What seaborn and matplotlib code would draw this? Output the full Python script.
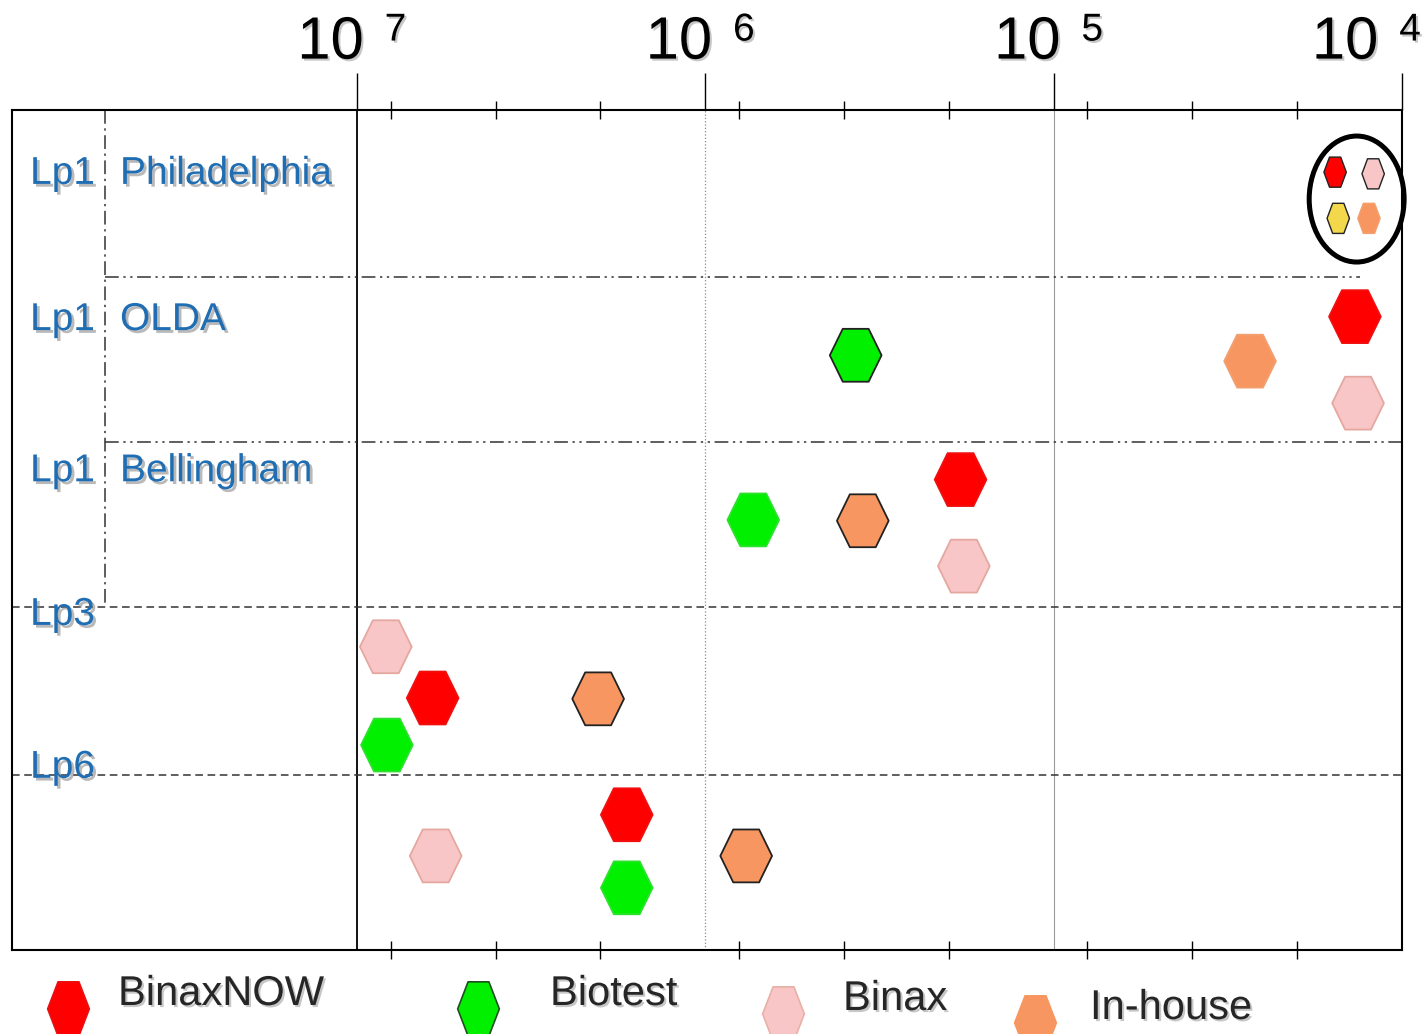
import numpy as np
import pandas as pd
import matplotlib
matplotlib.use("Agg")
import matplotlib.pyplot as plt
import matplotlib.patheffects as pe
from matplotlib.patches import Ellipse
from matplotlib.lines import Line2D
from matplotlib.path import Path
from matplotlib.markers import MarkerStyle
from matplotlib.transforms import Affine2D
from matplotlib.ticker import FixedLocator, NullFormatter
import seaborn as sns

# ---------------- data ----------------
assay_names = ["BinaxNOW", "Biotest", "Binax", "In-house"]
assay_colors = {"BinaxNOW": "#FF0000", "Biotest": "#00F000",
                "Binax": "#F8C6C6", "In-house": "#F79660", "Other": "#F2D84A"}
soft_edges = {"BinaxNOW": "#F01010", "Biotest": "#30E030",
              "Binax": "#E4A8A0", "In-house": "#F3A070", "Other": "#333333"}

strain = ["OLDA"] * 4 + ["Bellingham"] * 4 + ["Lp3"] * 4 + ["Lp6"] * 4
assay = ["BinaxNOW", "Biotest", "In-house", "Binax",
         "BinaxNOW", "Biotest", "In-house", "Binax",
         "Binax", "BinaxNOW", "In-house", "Biotest",
         "BinaxNOW", "Binax", "In-house", "Biotest"]
conc = [13650, 3.7e5, 27300, 13370,
        1.85e5, 7.28e5, 3.53e5, 1.81e5,
        8.26e6, 6.06e6, 2.03e6, 8.2e6,
        1.68e6, 5.94e6, 7.63e5, 1.68e6]
ypos = [24.6, 29.2, 29.9, 34.9,
        44.0, 48.8, 48.9, 54.3,
        63.9, 70.0, 70.1, 75.6,
        83.9, 88.8, 88.8, 92.6]
outlined = [False, True, False, False,
            False, False, True, False,
            False, False, True, False,
            False, False, True, False]

phil_assay = ["BinaxNOW", "Binax", "Other", "In-house"]
phil_conc = [15560, 12100, 15240, 12440]
phil_y = [7.4, 7.6, 12.9, 12.9]
phil_outlined = [True, True, True, False]

row_group = ["Lp1", "Lp1", "Lp1", "Lp3", "Lp6"]
row_name = ["Philadelphia", "OLDA", "Bellingham", "", ""]
row_label_y = [8.8, 26.2, 44.2, 61.3, 79.5]
row_bounds = [19.9, 39.5, 59.2, 79.2]

major_ticks = [1e7, 1e6, 1e5, 1e4]
major_exps = ["7", "6", "5", "4"]
minor_ticks = [8e6, 4e6, 2e6, 8e5, 4e5, 2e5, 8e4, 4e4, 2e4]
x_limits = (10 ** 7.99, 10 ** 4.0)

# legend layout (pixels): marker centre x, text centre y, marker-to-text gap
legend_x_px = [68, 478, 783, 1035]
legend_y_px = [994, 994, 999, 1008]
legend_gap_px = [50, 72, 60, 55]

# ---------------- style ----------------
sns.set_style("white")
plt.rcParams["font.family"] = ["Liberation Sans", "DejaVu Sans"]


def hex_marker(k, dy=0.0):
    ang = np.deg2rad(np.arange(0, 360, 60))
    verts = np.column_stack([np.cos(ang), k * np.sin(ang)])
    verts = np.vstack([verts, verts[:1]])
    if dy:
        return MarkerStyle(Path(verts, closed=True),
                           transform=Affine2D().translate(0, dy))
    return MarkerStyle(Path(verts, closed=True))


main_hex = hex_marker(1.18)
small_hex = hex_marker(1.55)
legend_hex = hex_marker(1.5, dy=-0.34)

W, H = 1422, 1034
fig = plt.figure(figsize=(W / 100, H / 100), dpi=100)
ax = fig.add_axes([12 / W, 1 - 950 / H, 1390 / W, 840 / H])

df = pd.DataFrame({"strain": strain, "assay": assay, "conc": conc,
                   "y": ypos, "outlined": outlined})
phil = pd.DataFrame({"assay": phil_assay, "conc": phil_conc, "y": phil_y,
                     "outlined": phil_outlined})

sns.scatterplot(data=df, x="conc", y="y", hue="assay", palette=assay_colors,
                marker=main_hex, s=1450, linewidth=1.3, legend=False, ax=ax,
                zorder=5)
pts = ax.collections[-1]
pts.set_edgecolors(["#222222" if o else soft_edges[a]
                    for a, o in zip(df["assay"], df["outlined"])])

sns.scatterplot(data=phil, x="conc", y="y", hue="assay", palette=assay_colors,
                marker=small_hex, s=470, linewidth=1.0, legend=False, ax=ax,
                zorder=5)
pts2 = ax.collections[-1]
pts2.set_edgecolors(["#222222" if o else soft_edges[a]
                     for a, o in zip(phil["assay"], phil["outlined"])])

ax.set_xscale("log")
ax.set_xlim(*x_limits)
ax.set_ylim(100, 0)
ax.set_xlabel("")
ax.set_ylabel("")
ax.set_yticks([])
ax.xaxis.set_major_locator(FixedLocator(major_ticks))
ax.xaxis.set_minor_locator(FixedLocator(minor_ticks))
ax.xaxis.set_major_formatter(NullFormatter())
ax.xaxis.set_minor_formatter(NullFormatter())
ax.tick_params(axis="x", which="major", top=True, bottom=False,
               direction="out", length=27, width=1.0, color="black",
               labeltop=False, labelbottom=False)
ax.tick_params(axis="x", which="minor", top=True, bottom=True,
               direction="inout", length=13, width=1.0, color="black")
for sp in ax.spines.values():
    sp.set_visible(True)
    sp.set_color("black")
    sp.set_linewidth(1.5)

# vertical decade lines
ax.axvline(major_ticks[0], color="black", lw=1.3, zorder=1)
ax.axvline(major_ticks[1], color="#8a8a8a", lw=0.9, ls=":", zorder=1)
ax.axvline(major_ticks[2], color="#9a9a9a", lw=0.8, zorder=1)

# row separators
dashdotdot = (0, (9, 3, 1.5, 3, 1.5, 3))
sep_x = 0.067
ax.axhline(row_bounds[0], xmin=sep_x, xmax=0.97, color="#333333", lw=1.1,
           ls=dashdotdot, zorder=1)
ax.axhline(row_bounds[1], xmin=sep_x, xmax=1.0, color="#333333", lw=1.1,
           ls=dashdotdot, zorder=1)
ax.axhline(row_bounds[2], color="#333333", lw=1.1, ls=(0, (5, 3)), zorder=1)
ax.axhline(row_bounds[3], color="#333333", lw=1.1, ls=(0, (5, 3)), zorder=1)
ax.plot([sep_x, sep_x], [1, 1 - row_bounds[2] / 100], transform=ax.transAxes,
        color="#333333", lw=1.1, ls=(0, (9, 3, 1.5, 3)), zorder=1)

# row labels
shadow = [pe.SimplePatchShadow(offset=(2, -2), shadow_rgbFace="#808080",
                               alpha=0.55), pe.Normal()]
label_kw = dict(color="#1F6DB3", fontsize=28, va="baseline", ha="left",
                path_effects=shadow, zorder=6)
for g, n, yy in zip(row_group, row_name, row_label_y):
    ax.text(0.013, yy, g, transform=ax.get_yaxis_transform(), **label_kw)
    if n:
        ax.text(0.0777, yy, n, transform=ax.get_yaxis_transform(), **label_kw)

# ellipse around the Philadelphia marks
fig.canvas.draw()
xc = 10 ** np.mean(np.log10(phil_conc))
yc = np.mean(phil_y)
cx, cy = ax.transAxes.inverted().transform(ax.transData.transform((xc, yc)))
ax.add_patch(Ellipse((cx + 0.002, cy - 0.004), 0.0683, 0.15,
                     transform=ax.transAxes, fill=False, lw=3.6, ec="black",
                     clip_on=False, zorder=6))

# top tick labels: 10 with separate superscript exponent
tick_shadow = [pe.SimplePatchShadow(offset=(1.5, -1.5), shadow_rgbFace="#909090",
                                    alpha=0.5), pe.Normal()]
label_shift = [0, 0, 0, -22]
for v, e, sh in zip(major_ticks, major_exps, label_shift):
    ax.annotate("10", xy=(v, 1), xycoords=("data", "axes fraction"),
                xytext=(5 + sh, 37), textcoords="offset points",
                ha="right", va="baseline", fontsize=43, color="black",
                path_effects=tick_shadow, annotation_clip=False)
    ax.annotate(e, xy=(v, 1), xycoords=("data", "axes fraction"),
                xytext=(20 + sh, 50), textcoords="offset points",
                ha="left", va="baseline", fontsize=28, color="black",
                path_effects=tick_shadow, annotation_clip=False)

# legend (one entry per block, placed like the original)
legend_edges = {"BinaxNOW": "#E81010", "Biotest": "#1F4F1F",
                "Binax": "#E8B0A8", "In-house": "#F79660"}
fs = 30
em_px = fs * 100 / 72
for a, mx, ty, gap in zip(assay_names, legend_x_px, legend_y_px, legend_gap_px):
    h = Line2D([], [], ls="none", marker=legend_hex, markersize=39,
               markerfacecolor=assay_colors[a],
               markeredgecolor=legend_edges[a], markeredgewidth=1.2)
    leg = fig.legend([h], [a], loc="center left",
                     bbox_to_anchor=((mx - em_px / 2) / W, 1 - ty / H),
                     frameon=False, fontsize=fs, handlelength=1.0,
                     handletextpad=(gap - em_px / 2) / em_px,
                     borderaxespad=0, borderpad=0)
    for t in leg.get_texts():
        t.set_path_effects(tick_shadow)

fig.savefig("out.png", dpi=100)
